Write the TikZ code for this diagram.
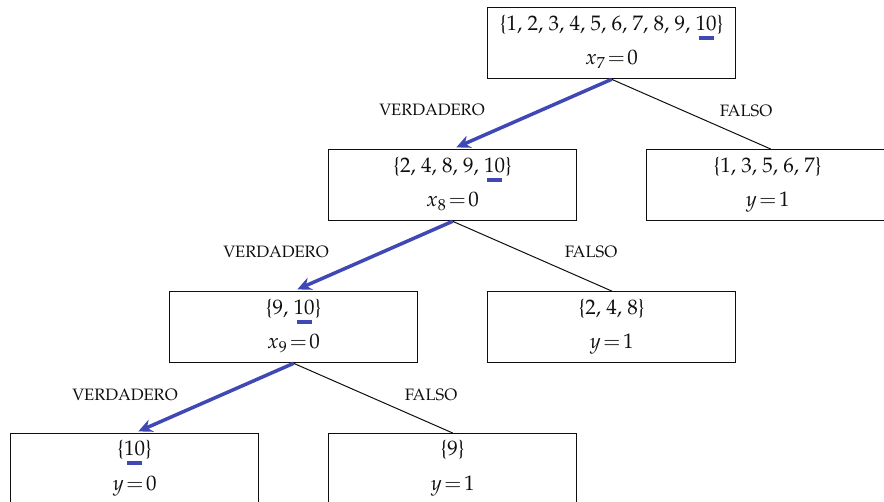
\documentclass[tikz,border=0pt]{standalone}
\usepackage[T1]{fontenc}
\usepackage{mathpazo}
\usetikzlibrary{arrows.meta,calc}
\definecolor{bblue}{RGB}{63,72,180}
\definecolor{ink}{RGB}{15,15,15}
\newcommand\mk{\makebox[0pt][l]{\hspace{0.15em}\textcolor{bblue}{\rule[-0.42em]{0.7em}{0.16em}}}10}
\newcommand\eq[2]{$#1\mkern2mu{=}\mkern2mu#2$}
\begin{document}
\begin{tikzpicture}[x=1pt,y=-1pt,
 box/.style={draw=ink, line width=1.3pt, minimum width=248pt, minimum height=71pt, inner sep=0pt, anchor=north west},
 txt/.style={anchor=base, inner sep=0pt, text=ink, font=\fontsize{21}{24}\selectfont},
 lab/.style={inner sep=0pt, text=ink, font=\fontsize{16.5}{20}\selectfont},
 yes/.style={draw=bblue, line width=3.5pt, -{Stealth[length=14pt,width=13pt]}, shorten >=4pt},
 no/.style={draw=ink, line width=1pt}]
\useasboundingbox (0,0) rectangle (884,502);
% boxes
\node[box] (root) at (487,7) {};
\node[box] (b2) at (328,149) {};
\node[box] (f1) at (646,149) {};
\node[box] (b3) at (169,291) {};
\node[box] (f2) at (487,291) {};
\node[box, minimum height=80pt] (b4) at (10,433) {};
\node[box, minimum height=80pt] (f3) at (328,433) {};
% texts
\node[txt] (rt1) at ($(root.north)+(0,24)$) {\{1, 2, 3, 4, 5, 6, 7, 8, 9, \mk\}};
\node[txt] (rt2) at ($(root.north)+(0,58)$) {\eq{x_7}{0}};
\node[txt] (b2t1) at ($(b2.north)+(0,24)$) {\{2, 4, 8, 9, \mk\}};
\node[txt] (b2t2) at ($(b2.north)+(0,58)$) {\eq{x_8}{0}};
\node[txt] (f1t1) at ($(f1.north)+(-3,24)$) {\{1, 3, 5, 6, 7\}};
\node[txt] (f1t2) at ($(f1.north)+(-3,58)$) {\eq{y}{1}};
\node[txt] (b3t1) at ($(b3.north)+(0,24)$) {\{9, \mk\}};
\node[txt] (b3t2) at ($(b3.north)+(0,58)$) {\eq{x_9}{0}};
\node[txt] (f2t1) at ($(f2.north)+(0,24)$) {\{2, 4, 8\}};
\node[txt] (f2t2) at ($(f2.north)+(0,58)$) {\eq{y}{1}};
\node[txt] (b4t1) at ($(b4.north)+(0,23)$) {\{\mk\}};
\node[txt] (b4t2) at ($(b4.north)+(0,57)$) {\eq{y}{0}};
\node[txt] (f3t1) at ($(f3.north)+(0,23)$) {\{9\}};
\node[txt] (f3t2) at ($(f3.north)+(0,57)$) {\eq{y}{1}};
% connectors
\draw[no] (root.south) -- (f1.north);
\draw[yes] (root.south) -- (b2.north);
\draw[no] (b2.south) -- (f2.north);
\draw[yes] (b2.south) -- (b3.north);
\draw[no] (b3.south) -- (f3.north);
\draw[yes] (b3.south) -- (b4.north);
% labels
\node[lab] (v1) at (432,110) {VERDADERO};
\node[lab] (n1) at (746,111) {FALSO};
\node[lab] (v2) at (276,252) {VERDADERO};
\node[lab] (n2) at (591,252) {FALSO};
\node[lab] (v3) at (125,395) {VERDADERO};
\node[lab] (n3) at (431,395) {FALSO};
\end{tikzpicture}
\end{document}
